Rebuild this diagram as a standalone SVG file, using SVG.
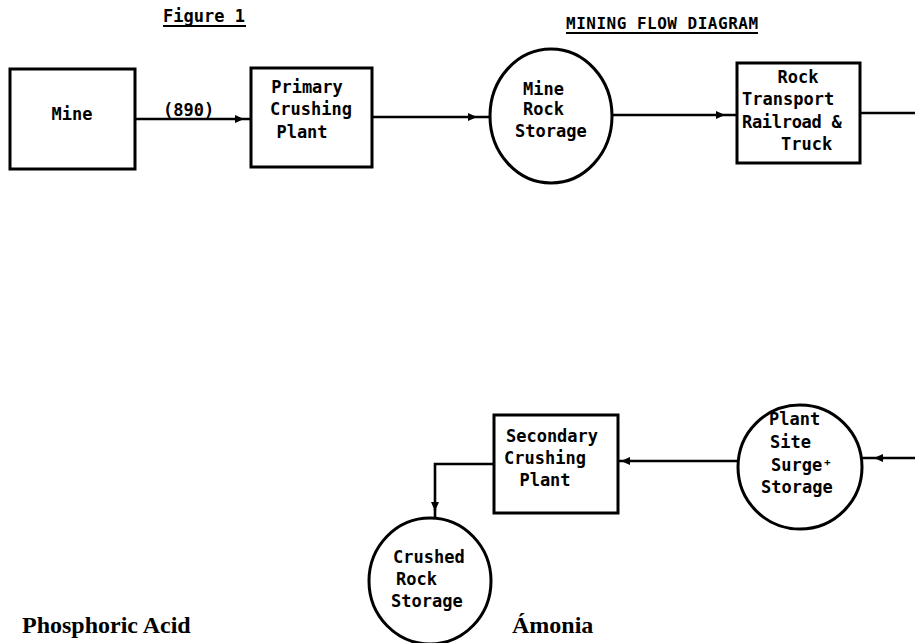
<svg xmlns="http://www.w3.org/2000/svg" width="915" height="643" viewBox="0 0 915 643">
<style>
.box{fill:#fff;stroke:#000;stroke-width:3}
.lbl{font-family:"DejaVu Sans Mono","Liberation Mono",monospace;font-weight:bold;font-size:17px;fill:#000}
.ttl{font-family:"DejaVu Sans Mono","Liberation Mono",monospace;font-weight:bold;fill:#000}
.ser{font-family:"Liberation Serif","DejaVu Serif",serif;font-weight:bold;font-size:24px;fill:#000}
.ln{fill:none;stroke:#000;stroke-width:2.6}
</style>
<defs>
<marker id="ah" markerUnits="userSpaceOnUse" markerWidth="9" markerHeight="8" refX="8" refY="4" orient="auto">
<path d="M0,0 L9,4 L0,8 z" fill="#000"/>
</marker>
</defs>
<rect width="915" height="643" fill="#fff"/>
<g id="titles">
<text class="ttl" x="163" y="22" font-size="17">Figure 1</text>
<line x1="163" y1="26" x2="246" y2="26" stroke="#000" stroke-width="2"/>
<text class="ttl" x="566" y="29" font-size="16" letter-spacing="0.5">MINING FLOW DIAGRAM</text>
<line x1="566" y1="33" x2="758" y2="33" stroke="#000" stroke-width="2"/>
</g>
<g id="connectors">
<path class="ln" d="M135,119 L243,119 L251,119" marker-mid="url(#ah)"/>
<text class="lbl" x="163" y="116">(890)</text>
<path class="ln" d="M372,117 L476,117 L490,117" marker-mid="url(#ah)"/>
<path class="ln" d="M613,115 L724,115 L737,115" marker-mid="url(#ah)"/>
<path class="ln" d="M860,113 L915,113"/>
<path class="ln" d="M915,458 L875,458 L862,458" marker-mid="url(#ah)"/>
<path class="ln" d="M738,461 L622,461 L618,461" marker-mid="url(#ah)"/>
<path class="ln" d="M494,464 H435 V510" marker-end="url(#ah)"/>
<path class="ln" d="M435,509 V518"/>
</g>
<g id="mine">
<rect class="box" x="10" y="69" width="125" height="100"/>
<text class="lbl" x="72" y="120" text-anchor="middle">Mine</text>
</g>
<g id="primary">
<rect class="box" x="251" y="68" width="121" height="99"/>
<text class="lbl" x="307" y="93" text-anchor="middle">Primary</text>
<text class="lbl" x="311" y="115" text-anchor="middle">Crushing</text>
<text class="lbl" x="302" y="138" text-anchor="middle">Plant</text>
</g>
<g id="mine-rock-storage">
<ellipse class="box" cx="551" cy="116" rx="61" ry="67"/>
<text class="lbl" x="523" y="95">Mine</text>
<text class="lbl" x="523" y="115">Rock</text>
<text class="lbl" x="515" y="137">Storage</text>
</g>
<g id="rock-transport">
<rect class="box" x="737" y="63" width="123" height="100"/>
<text class="lbl" x="798" y="83" text-anchor="middle">Rock</text>
<text class="lbl" x="742" y="105">Transport</text>
<text class="lbl" x="742" y="128" letter-spacing="-0.3">Railroad &amp;</text>
<text class="lbl" x="781" y="150">Truck</text>
</g>
<g id="plant-site-surge-storage">
<ellipse class="box" cx="800" cy="467" rx="62" ry="62"/>
<text class="lbl" x="769" y="425">Plant</text>
<text class="lbl" x="770" y="448">Site</text>
<text class="lbl" x="771" y="471">Surge⁺</text>
<text class="lbl" x="761" y="493">Storage</text>
</g>
<g id="secondary-crushing-plant">
<rect class="box" x="494" y="415" width="124" height="98"/>
<text class="lbl" x="552" y="442" text-anchor="middle">Secondary</text>
<text class="lbl" x="545" y="464" text-anchor="middle">Crushing</text>
<text class="lbl" x="545" y="486" text-anchor="middle">Plant</text>
</g>
<g id="crushed-rock-storage">
<ellipse class="box" cx="430" cy="581" rx="61" ry="63"/>
<text class="lbl" x="393" y="563">Crushed</text>
<text class="lbl" x="396" y="585">Rock</text>
<text class="lbl" x="391" y="607">Storage</text>
</g>
<g id="notes">
<text class="ser" x="22" y="633">Phosphoric Acid</text>
<text class="ser" x="512" y="633">Ámonia</text>
</g>
</svg>
